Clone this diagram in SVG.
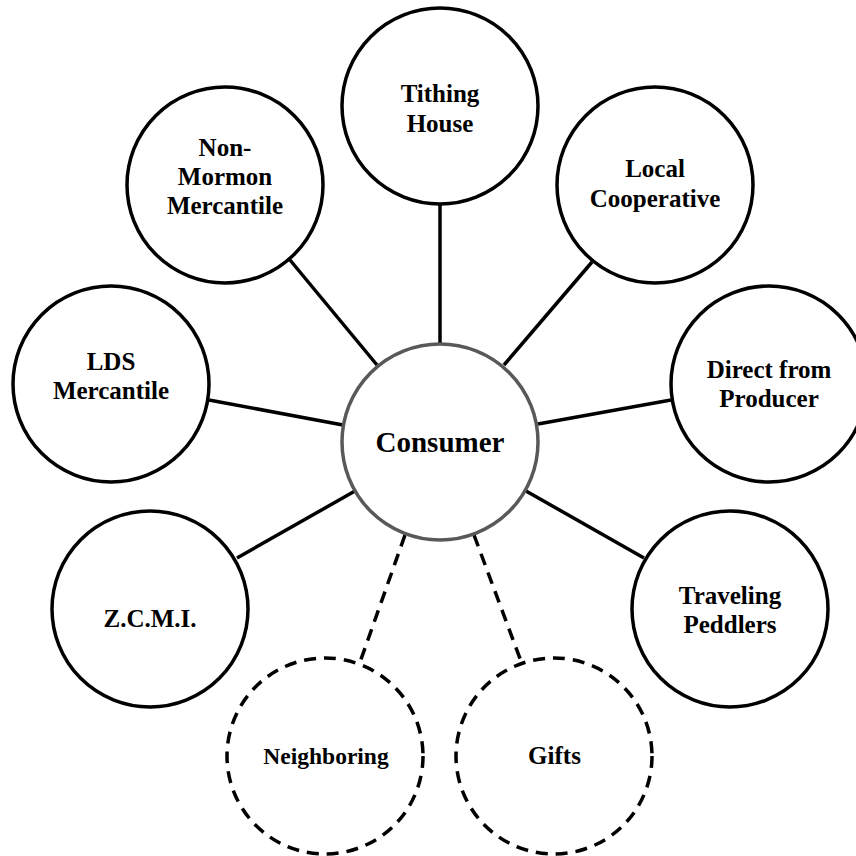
<svg xmlns="http://www.w3.org/2000/svg" width="856" height="856" viewBox="0 0 856 856">
  <style>
    .bg { fill: #ffffff; }
    .node { fill: #ffffff; stroke: #000000; stroke-width: 3.5; }
    .center { fill: #ffffff; stroke: #595959; stroke-width: 3.5; }
    .dashed { fill: #ffffff; stroke: #000000; stroke-width: 3.5; stroke-dasharray: 12 8; }
    .edge { stroke: #000000; stroke-width: 3.5; fill: none; }
    .edge-dash { stroke: #000000; stroke-width: 3.5; fill: none; stroke-dasharray: 12 8; }
    .label { font-family: "Liberation Serif", "Times New Roman", serif; font-weight: bold; font-size: 25px; fill: #000000; text-anchor: middle; }
    .big { font-size: 29px; }
    .small { font-size: 23.5px; }
  </style>
  <rect class="bg" x="0" y="0" width="856" height="856"/>
  <g id="connectors">
    <line class="edge" x1="440" y1="204" x2="440" y2="344"/>
    <line class="edge" x1="290" y1="260" x2="377" y2="365"/>
    <line class="edge" x1="592" y1="262" x2="504" y2="365"/>
    <line class="edge" x1="209" y1="400" x2="343" y2="425"/>
    <line class="edge" x1="671" y1="400" x2="538" y2="424"/>
    <line class="edge" x1="237" y1="558" x2="355" y2="491"/>
    <line class="edge" x1="644" y1="558" x2="526" y2="491"/>
    <line class="edge-dash" x1="405" y1="535" x2="359" y2="665"/>
    <line class="edge-dash" x1="474" y1="535" x2="522" y2="664"/>
  </g>
  <g id="consumer">
    <circle class="center" cx="440" cy="442" r="98"/>
    <text class="label big" x="440" y="452">Consumer</text>
  </g>
  <g id="tithing-house">
    <circle class="node" cx="440" cy="106" r="98"/>
    <text class="label" x="440" y="102">Tithing</text>
    <text class="label" x="440" y="132">House</text>
  </g>
  <g id="non-mormon-mercantile">
    <circle class="node" cx="225" cy="185" r="98"/>
    <text class="label" x="225" y="156">Non-</text>
    <text class="label" x="225" y="185">Mormon</text>
    <text class="label" x="225" y="214">Mercantile</text>
  </g>
  <g id="local-cooperative">
    <circle class="node" cx="655" cy="185" r="98"/>
    <text class="label" x="655" y="177">Local</text>
    <text class="label" x="655" y="207">Cooperative</text>
  </g>
  <g id="lds-mercantile">
    <circle class="node" cx="111" cy="384" r="98"/>
    <text class="label" x="111" y="370">LDS</text>
    <text class="label" x="111" y="399">Mercantile</text>
  </g>
  <g id="direct-from-producer">
    <circle class="node" cx="769" cy="384" r="98"/>
    <text class="label" x="769" y="378">Direct from</text>
    <text class="label" x="769" y="407">Producer</text>
  </g>
  <g id="zcmi">
    <circle class="node" cx="150" cy="609" r="98"/>
    <text class="label" x="150" y="627">Z.C.M.I.</text>
  </g>
  <g id="traveling-peddlers">
    <circle class="node" cx="730" cy="609" r="98"/>
    <text class="label" x="730" y="604">Traveling</text>
    <text class="label" x="730" y="633">Peddlers</text>
  </g>
  <g id="neighboring">
    <circle class="dashed" cx="325" cy="756" r="98"/>
    <text class="label small" x="326" y="764">Neighboring</text>
  </g>
  <g id="gifts">
    <circle class="dashed" cx="554" cy="756" r="98"/>
    <text class="label" x="554.5" y="764">Gifts</text>
  </g>
</svg>
